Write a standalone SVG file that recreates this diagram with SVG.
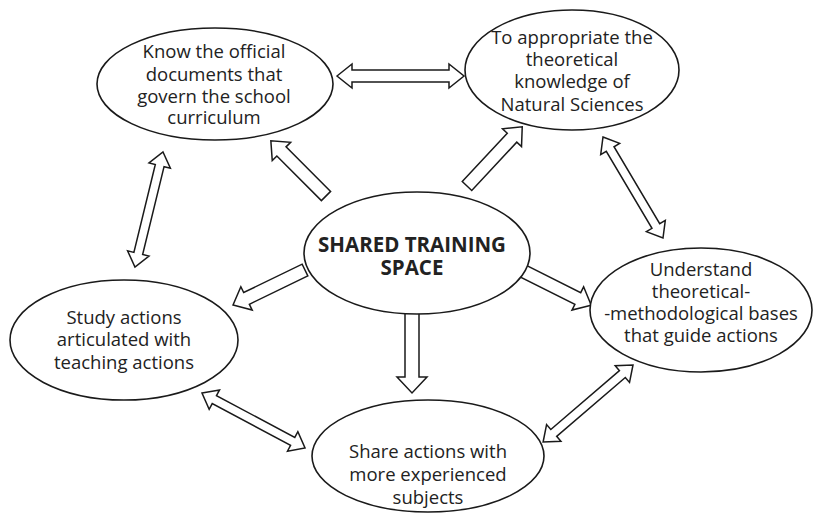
<svg xmlns="http://www.w3.org/2000/svg" width="815" height="522" viewBox="0 0 815 522">
<style>
.n ellipse{fill:#fff;stroke:#1a1a1a;stroke-width:1.6}
text{font-family:"Open Sans","Noto Sans",sans-serif;font-size:18.5px;fill:#222;text-anchor:middle}
.b{font-weight:bold;font-size:20.5px}
.a{fill:#fff;stroke:#1a1a1a;stroke-width:1.5;stroke-linejoin:miter}
</style>
<rect width="815" height="522" fill="#fff"/>
<g id="connectors">
<path class="a" transform="translate(337,76)" d="M0,0 L15,-12 L15,-6 L112,-6 L112,-12 L127,0 L112,12 L112,6 L15,6 L15,12 Z"/>
<path class="a" transform="translate(326,196) rotate(225)" d="M0,-6.5 L63,-6.5 L63,-13 L78,0 L63,13 L63,6.5 L0,6.5 Z"/>
<path class="a" transform="translate(467,186) rotate(-47)" d="M0,-6.5 L66,-6.5 L66,-13 L81,0 L66,13 L66,6.5 L0,6.5 Z"/>
<path class="a" transform="translate(603,137) rotate(59.3)" d="M0,0 L14,-11 L14,-4.5 L103.5,-4.5 L103.5,-11 L117.5,0 L103.5,11 L103.5,4.5 L14,4.5 L14,11 Z"/>
<path class="a" transform="translate(305,270) rotate(154.1)" d="M0,-6.5 L65,-6.5 L65,-13 L80,0 L65,13 L65,6.5 L0,6.5 Z"/>
<path class="a" transform="translate(517,268) rotate(26.6)" d="M0,-6.5 L68,-6.5 L68,-13 L83,0 L68,13 L68,6.5 L0,6.5 Z"/>
<path class="a" transform="translate(412,312) rotate(90)" d="M0,-7 L65,-7 L65,-15 L81,0 L65,15 L65,7 L0,7 Z"/>
<path class="a" transform="translate(202,393) rotate(28.1)" d="M0,0 L14,-11 L14,-4.5 L102.8,-4.5 L102.8,-11 L116.8,0 L102.8,11 L102.8,4.5 L14,4.5 L14,11 Z"/>
<path class="a" transform="translate(633,365) rotate(139.4)" d="M0,0 L14,-11 L14,-4.5 L104.4,-4.5 L104.4,-11 L118.4,0 L104.4,11 L104.4,4.5 L14,4.5 L14,11 Z"/>
<path class="a" transform="translate(163,152) rotate(103.7)" d="M0,0 L14,-11 L14,-4.5 L104.4,-4.5 L104.4,-11 L118.4,0 L104.4,11 L104.4,4.5 L14,4.5 L14,11 Z"/>
</g>
<g id="n-official" class="n">
<ellipse cx="215" cy="84" rx="118" ry="56"/>
<text x="214" y="58">Know the official</text>
<text x="214" y="81">documents that</text>
<text x="214" y="103">govern the school</text>
<text x="214" y="124">curriculum</text>
</g>
<g id="n-natural" class="n">
<ellipse cx="572" cy="70" rx="107" ry="60"/>
<text x="572" y="44">To appropriate the</text>
<text x="572" y="66">theoretical</text>
<text x="572" y="88">knowledge of</text>
<text x="572" y="111">Natural Sciences</text>
</g>
<g id="n-center" class="n">
<ellipse cx="417" cy="253" rx="113" ry="61"/>
<text class="b" x="412" y="252">SHARED TRAINING</text>
<text class="b" x="412" y="275">SPACE</text>
</g>
<g id="n-understand" class="n">
<ellipse cx="701" cy="310" rx="111" ry="62"/>
<text x="701" y="276">Understand</text>
<text x="701" y="298">theoretical-</text>
<text x="701" y="320">-methodological bases</text>
<text x="701" y="342">that guide actions</text>
</g>
<g id="n-study" class="n">
<ellipse cx="124" cy="340" rx="114" ry="60"/>
<text x="124" y="324">Study actions</text>
<text x="124" y="346">articulated with</text>
<text x="124" y="369">teaching actions</text>
</g>
<g id="n-share" class="n">
<ellipse cx="428" cy="456" rx="116" ry="56"/>
<text x="428" y="458">Share actions with</text>
<text x="428" y="481">more experienced</text>
<text x="428" y="504">subjects</text>
</g>
</svg>
